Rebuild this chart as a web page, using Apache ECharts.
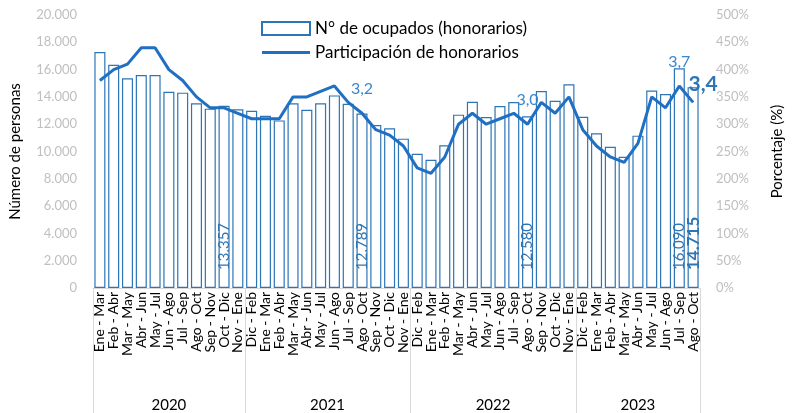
<!DOCTYPE html>
<html><head><meta charset="utf-8">
<script src="https://cdn.jsdelivr.net/npm/echarts@6/dist/echarts.min.js"></script>
<style>html,body{margin:0;padding:0;background:#fff}#c{width:793px;height:413px}</style>
</head><body><div id="c"></div>
<script>
const categories = [
 'Ene - Mar','Feb - Abr','Mar - May','Abr - Jun','May - Jul','Jun - Ago','Jul - Sep','Ago - Oct','Sep - Nov','Oct - Dic','Nov - Ene',
 'Dic - Feb','Ene - Mar','Feb - Abr','Mar - May','Abr - Jun','May - Jul','Jun - Ago','Jul - Sep','Ago - Oct','Sep - Nov','Oct - Dic','Nov - Ene',
 'Dic - Feb','Ene - Mar','Feb - Abr','Mar - May','Abr - Jun','May - Jul','Jun - Ago','Jul - Sep','Ago - Oct','Sep - Nov','Oct - Dic','Nov - Ene',
 'Dic - Feb','Ene - Mar','Feb - Abr','Mar - May','Abr - Jun','May - Jul','Jun - Ago','Jul - Sep','Ago - Oct'];
const years = ['2020','2021','2022','2023'];
const yearSizes = [11,12,12,9];
const ocupados = [
 17290,16360,15360,15600,15600,14380,14310,13530,13140,13357,13090,
 12990,12620,12280,13530,13060,13530,14110,13500,12789,11940,11700,10940,
 9840,9400,10450,12700,13650,12520,13330,13620,12580,14430,13720,14920,
 12550,11330,10350,9620,11160,14460,14210,16090,14715];
const participacion = [
 3.8,4.0,4.1,4.4,4.4,4.0,3.8,3.5,3.3,3.3,3.2,
 3.1,3.1,3.1,3.5,3.5,3.6,3.7,3.4,3.2,2.9,2.8,2.6,
 2.2,2.1,2.4,3.0,3.2,3.0,3.1,3.2,3.0,3.4,3.2,3.5,
 2.9,2.6,2.4,2.3,2.65,3.5,3.3,3.7,3.4];
const barLabelIdx = [9,19,31,42,43];
const lineLabelIdx = [19,31,42,43];
const FONT = 'Lato';
const BLUE = '#2e75b6';

const fmtThousands = v => String(Math.round(v)).replace(/\B(?=(\d{3})+(?!\d))/g, '.');
const fmtDec = v => v.toFixed(1).replace('.', ',');

const bounds = [0]; yearSizes.forEach(s => bounds.push(bounds[bounds.length-1] + s));
const centers = yearSizes.map((s,i) => bounds[i] + s/2);

const last = ocupados.length - 1;
const barData = ocupados.map((v,i) => {
  if (!barLabelIdx.includes(i)) return v;
  const bold = i === last;
  return {value: v, label: {show: true, position: 'insideBottom', rotate: 90, align: 'left', verticalAlign: 'middle',
    distance: 18, color: BLUE, fontFamily: FONT, fontSize: bold ? 17 : 15, fontWeight: bold ? 'bold' : 'normal',
    formatter: p => fmtThousands(p.value)}};
});
const lineData = participacion.map((v,i) => {
  if (!lineLabelIdx.includes(i)) return v;
  const bold = i === last;
  return {value: v, label: bold ? {show: true, position: 'top', distance: 4, offset: [10, -4], color: BLUE, fontFamily: FONT, fontSize: 21, fontWeight: 'bold', formatter: p => fmtDec(p.value)}
    : {show: true, position: 'top', distance: 16, color: '#3a86d0', fontFamily: FONT, fontSize: 16, formatter: p => fmtDec(p.value)}};
});

const chart = echarts.init(document.getElementById('c'), null, {renderer: 'canvas'});
chart.setOption({
  animation: false,
  textStyle: {fontFamily: FONT},
  grid: {left: 88, right: 88, top: 15, bottom: 125},
  legend: {
    orient: 'vertical', left: 256, top: 15, itemWidth: 48, itemHeight: 13, itemGap: 7,
    textStyle: {fontFamily: FONT, fontSize: 17, color: '#000'},
    data: [{name: 'N° de ocupados (honorarios)', icon: 'rect'},
           {name: 'Participación de honorarios', icon: 'path://M0,0H48V3H0Z'}]
  },
  xAxis: [{
    type: 'category', data: categories, boundaryGap: true,
    axisLine: {lineStyle: {color: '#d9d9d9'}}, axisTick: {show: false},
    axisLabel: {rotate: 90, interval: 0, margin: 4, fontFamily: FONT, fontSize: 14, color: '#000'}
  }, {
    type: 'value', min: 0, max: categories.length, position: 'bottom',
    axisLine: {show: false}, splitLine: {show: false},
    axisTick: {show: true, customValues: bounds, length: 125, lineStyle: {color: '#d9d9d9'}},
    axisLabel: {customValues: centers, margin: 110, fontFamily: FONT, fontSize: 15, color: '#000',
      formatter: v => { const k = centers.indexOf(v); return k >= 0 ? years[k] : ''; }}
  }],
  yAxis: [{
    type: 'value', min: 0, max: 20000, interval: 2000,
    name: 'Número de personas', nameLocation: 'middle', nameGap: 70, nameRotate: 90,
    nameTextStyle: {fontFamily: FONT, fontSize: 15, color: '#000'},
    axisLine: {show: false}, axisTick: {show: false}, splitLine: {show: false},
    axisLabel: {fontFamily: FONT, fontSize: 13, color: '#bfbfbf', margin: 16, formatter: fmtThousands}
  }, {
    type: 'value', min: 0, max: 5, interval: 0.5,
    name: 'Porcentaje (%)', nameLocation: 'middle', nameGap: 70, nameRotate: 90,
    nameTextStyle: {fontFamily: FONT, fontSize: 15, color: '#000'},
    axisLine: {show: false}, axisTick: {show: false}, splitLine: {show: false},
    axisLabel: {fontFamily: FONT, fontSize: 13, color: '#bfbfbf', margin: 16, formatter: v => Math.round(v*100) + '%'}
  }],
  series: [{
    name: 'N° de ocupados (honorarios)', type: 'bar', xAxisIndex: 0, yAxisIndex: 0,
    data: barData, barCategoryGap: '20%',
    itemStyle: {color: '#ffffff', borderColor: BLUE, borderWidth: 1.2}
  }, {
    name: 'Participación de honorarios', type: 'line', xAxisIndex: 0, yAxisIndex: 1,
    data: lineData, symbol: 'circle', symbolSize: 0.1, showSymbol: true,
    lineStyle: {color: '#1f6fc2', width: 3}, itemStyle: {color: '#1f6fc2'}
  }]
});
</script></body></html>
